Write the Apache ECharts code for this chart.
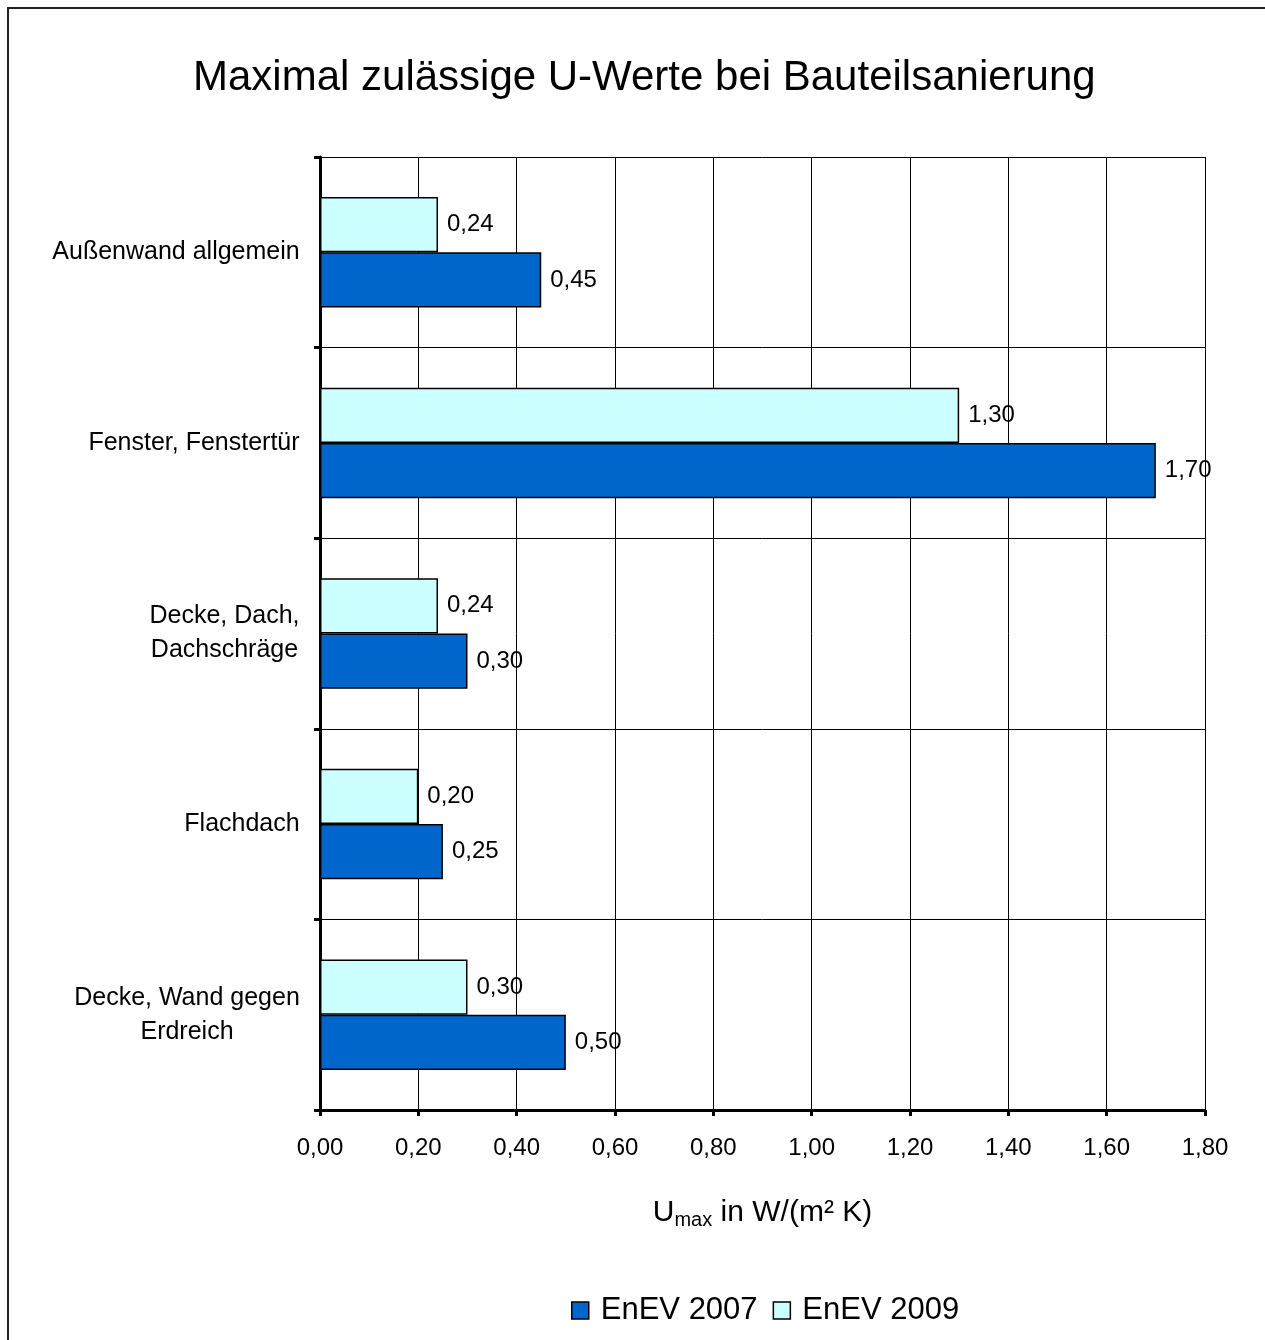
<!DOCTYPE html>
<html>
<head>
<meta charset="utf-8">
<script src="https://cdn.jsdelivr.net/npm/echarts@6/dist/echarts.min.js"></script>
<style>
  html, body { margin: 0; padding: 0; background: #fff; }
  #chart { width: 1265px; height: 1340px; }
</style>
</head>
<body>
<div id="chart"></div>
<script>
// chart data
const categories = ['Außenwand allgemein', 'Fenster, Fenstertür', 'Decke, Dach,\nDachschräge', 'Flachdach', 'Decke, Wand gegen\nErdreich']
const enev2007 = [0.45, 1.70, 0.30, 0.25, 0.50]
const enev2009 = [0.24, 1.30, 0.24, 0.20, 0.30]
const xTicks = [0, 0.2, 0.4, 0.6, 0.8, 1.0, 1.2, 1.4, 1.6, 1.8]

const FONT = 'Liberation Sans, Arial, sans-serif'
const CAT_SIZE = 25

function fmt(v) {
  return v.toFixed(2).replace('.', ',')
}

// width of the longest line, so multi-line labels are centered per line
const ctx = document.createElement('canvas').getContext('2d')
ctx.font = CAT_SIZE + 'px Liberation Sans'
const catRich = {}
categories.forEach((c, i) => {
  const w = Math.max(...c.split('\n').map(l => ctx.measureText(l).width))
  catRich['c' + i] = { width: Math.ceil(w), align: 'center', fontSize: CAT_SIZE, fontFamily: FONT, color: '#000', lineHeight: 34 }
})

const chart = echarts.init(document.getElementById('chart'))

const option = {
  backgroundColor: '#fff',
  animation: false,
  graphic: [{
    type: 'rect',
    shape: { x: 8, y: 8, width: 1300, height: 1400 },
    style: { fill: 'none', stroke: '#222', lineWidth: 2 },
    silent: true
  }],
  title: {
    text: 'Maximal zulässige U-Werte bei Bauteilsanierung',
    left: 188,
    top: 52,
    textStyle: { fontFamily: FONT, fontSize: 42, fontWeight: 'normal', color: '#000' }
  },
  legend: {
    data: ['EnEV 2007', 'EnEV 2009'],
    bottom: 9,
    left: 566,
    icon: 'rect',
    itemWidth: 17,
    itemHeight: 17,
    itemGap: 15,
    itemStyle: { borderColor: '#000', borderWidth: 1.5 },
    textStyle: { fontFamily: FONT, fontSize: 31, color: '#000', padding: [0, 0, 0, 7] }
  },
  grid: {
    left: 320,
    right: 60,
    top: 157,
    bottom: 230,
    containLabel: false
  },
  xAxis: {
    type: 'value',
    min: 0,
    max: 1.8,
    interval: 0.2,
    name: '{a|U}{s|max}{a| in W/(m² K)}',
    nameLocation: 'middle',
    nameGap: 86,
    nameTextStyle: {
      rich: {
        a: { fontFamily: FONT, fontSize: 30, color: '#000' },
        s: { fontFamily: FONT, fontSize: 20, color: '#000', padding: [14, 0, 0, 0] }
      }
    },
    axisLine: { show: true, lineStyle: { color: '#000', width: 3 } },
    axisTick: { show: true, inside: false, length: 6, lineStyle: { color: '#000', width: 3 } },
    axisLabel: {
      margin: 26,
      fontFamily: FONT,
      fontSize: 24,
      color: '#000',
      formatter: v => fmt(v)
    },
    splitLine: { show: true, lineStyle: { color: '#000', width: 1 } }
  },
  yAxis: {
    type: 'category',
    data: categories,
    inverse: true,
    axisLine: { show: true, lineStyle: { color: '#000', width: 3 } },
    axisTick: { show: true, inside: false, length: 6, lineStyle: { color: '#000', width: 3 } },
    axisLabel: {
      margin: 20,
      formatter: (v, i) => v.split('\n').map(l => '{c' + i + '|' + l + '}').join('\n'),
      rich: catRich
    },
    splitLine: { show: true, lineStyle: { color: '#000', width: 1 } }
  },
  series: [
    {
      name: 'EnEV 2009',
      type: 'bar',
      data: enev2009,
      barGap: '0%',
      barCategoryGap: '42%',
      itemStyle: { color: '#CCFFFF', borderColor: '#000', borderWidth: 1.5 },
      label: {
        show: true,
        position: 'right',
        distance: 9,
        fontFamily: FONT,
        fontSize: 24,
        color: '#000',
        formatter: p => fmt(p.value)
      }
    },
    {
      name: 'EnEV 2007',
      type: 'bar',
      data: enev2007,
      barGap: '0%',
      barCategoryGap: '42%',
      itemStyle: { color: '#0066CC', borderColor: '#000', borderWidth: 1.5 },
      label: {
        show: true,
        position: 'right',
        distance: 9,
        fontFamily: FONT,
        fontSize: 24,
        color: '#000',
        formatter: p => fmt(p.value)
      }
    }
  ]
}

chart.setOption(option)
</script>
</body>
</html>
